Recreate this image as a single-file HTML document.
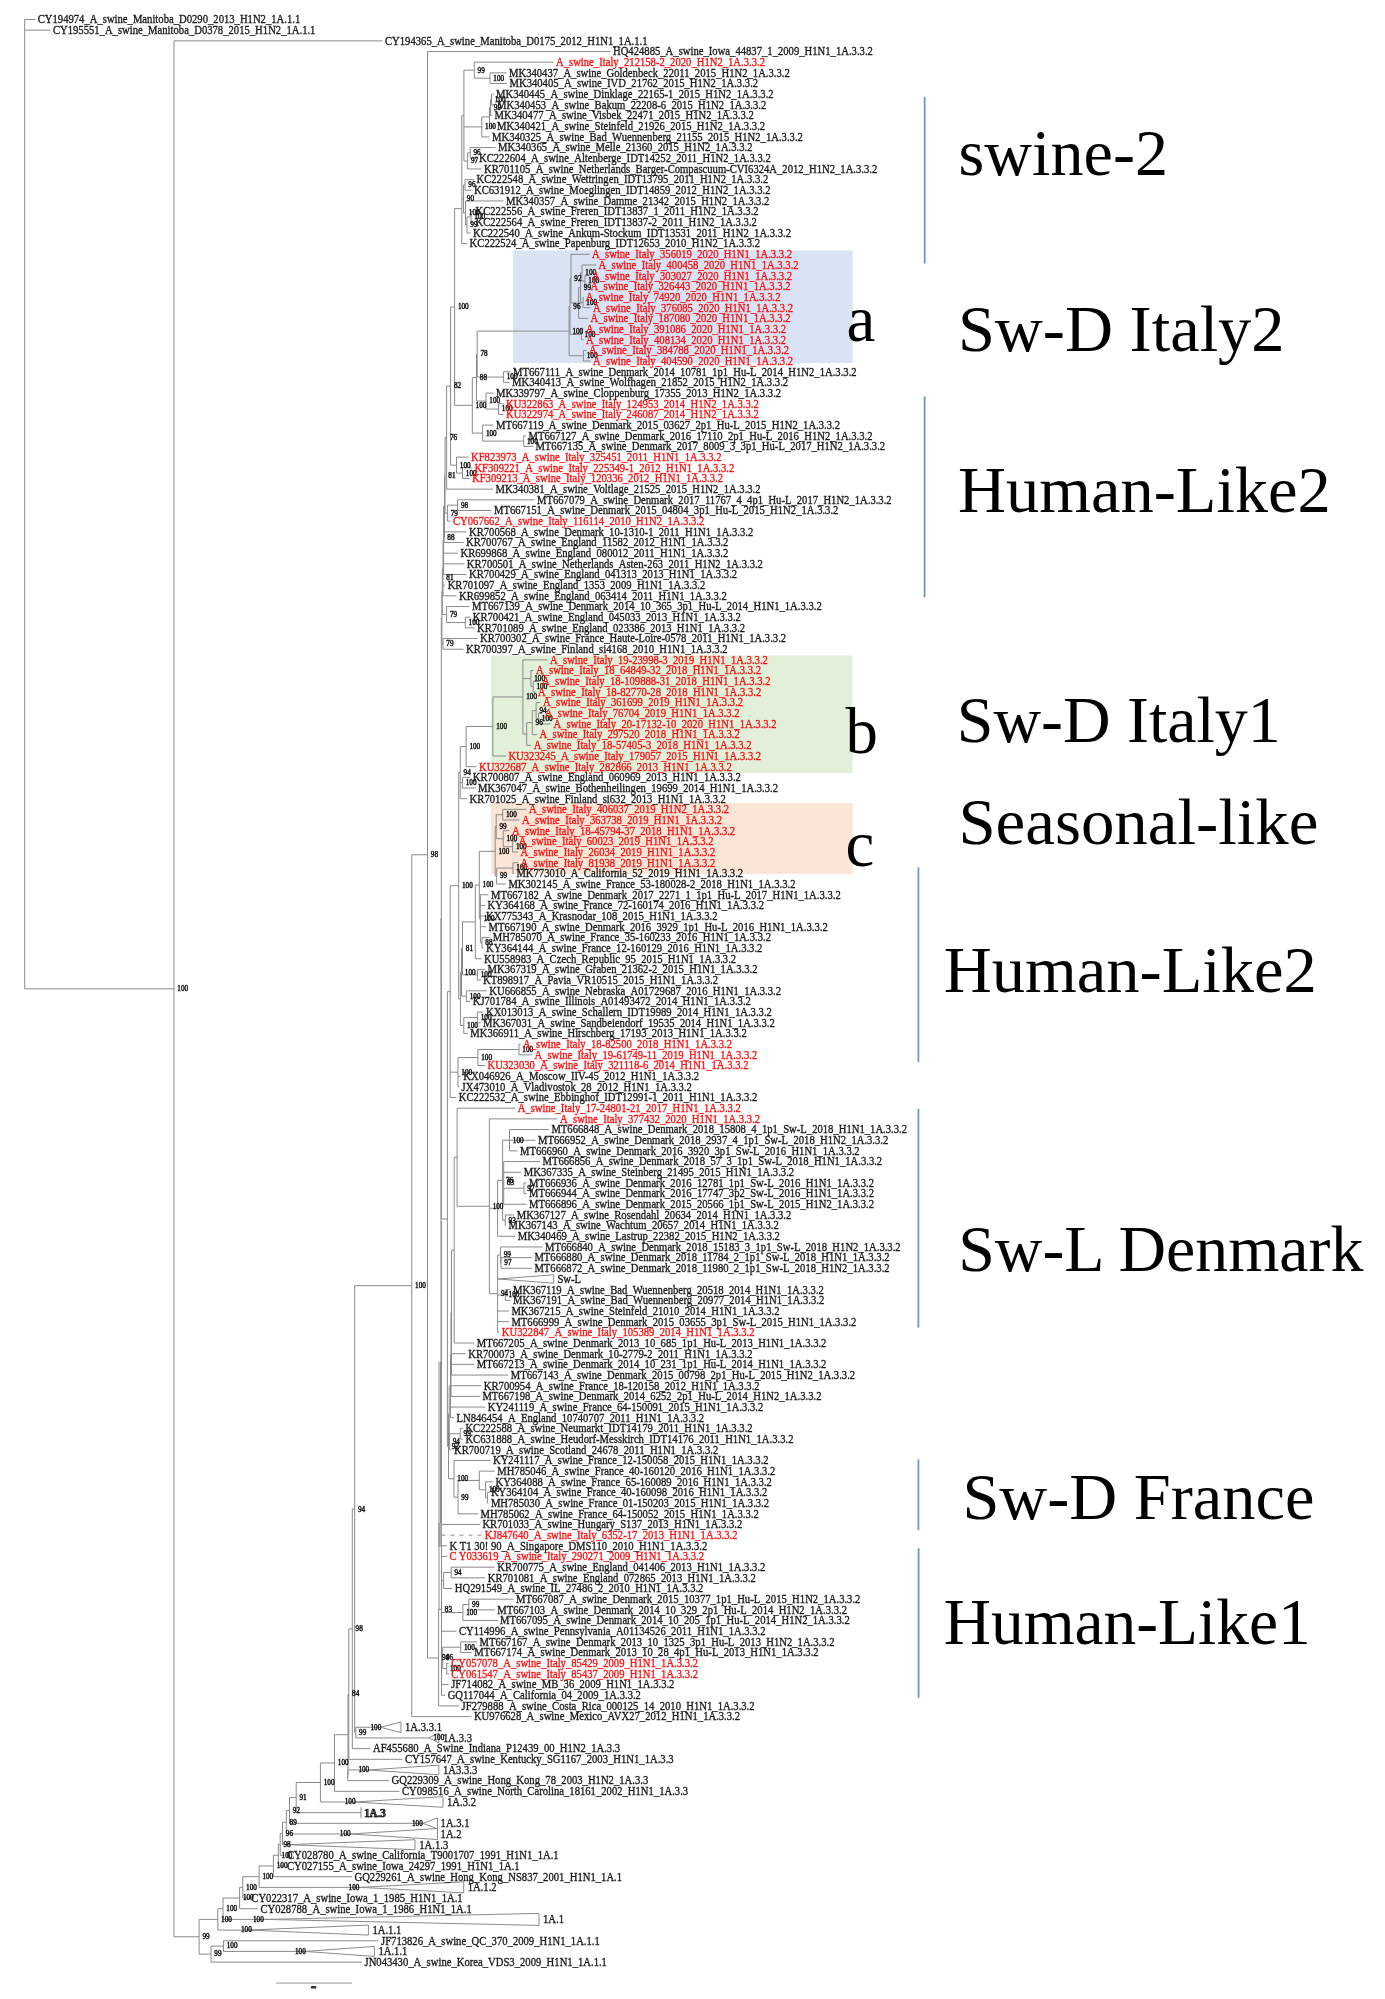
<!DOCTYPE html>
<html><head><meta charset="utf-8"><title>Phylogenetic tree</title>
<style>
html,body{margin:0;padding:0;background:#fff;}
body{width:1385px;height:1999px;overflow:hidden;position:relative;font-family:"Liberation Serif",serif;}
svg{position:absolute;left:0;top:0;display:block;will-change:transform;}
</style></head><body>
<svg width="1385" height="1999" viewBox="0 0 1385 1999">
<rect x="513" y="250.5" width="339.8" height="112.5" fill="#dae3f3"/>
<rect x="491" y="655.5" width="361.6" height="117.5" fill="#e2f0d9"/>
<rect x="491" y="803" width="361.6" height="71" fill="#fbe5d6"/>
<line x1="924.7" y1="96.8" x2="924.7" y2="263.5" stroke="#6f93d6" stroke-width="1.8"/>
<line x1="924.6" y1="396.5" x2="924.6" y2="597.2" stroke="#6f93d6" stroke-width="1.8"/>
<line x1="918.4" y1="867.5" x2="918.4" y2="1062.2" stroke="#6f93d6" stroke-width="1.8"/>
<line x1="918.4" y1="1108.9" x2="918.4" y2="1327.7" stroke="#6f93d6" stroke-width="1.8"/>
<line x1="918.4" y1="1459.4" x2="918.4" y2="1530.1" stroke="#6f93d6" stroke-width="1.8"/>
<line x1="918.6" y1="1548.3" x2="918.6" y2="1697.8" stroke="#6f93d6" stroke-width="1.8"/>
<path d="M24.7 19.5V988.8M24.7 19.5H35.2M24.7 30.17H50.4M24.7 988.8H174M174 40.85V1936.74M174 40.85H382.5M174 1936.74H199.1M199.1 1919.4V1954.09M199.1 1919.4H217.8M217.8 1908.72V1930.07M217.8 1908.72H223M223 1898.04V1919.4M223 1898.04H239.6M239.6 1887.36V1908.73M239.6 1887.36H242.8M242.8 1876.67V1898.05M242.8 1876.67H259.1M259.1 1865.96V1887.38M259.1 1865.96H273.4M273.4 1855.22V1876.71M273.4 1855.22H278.3M278.3 1844.41V1866.03M278.3 1844.41H280.2M280.2 1833.46V1855.36M280.2 1833.46H282.5M282.5 1822.24V1844.69M282.5 1822.24H286.3M286.3 1810.46V1834.01M286.3 1810.46H289.5M289.5 1797.58V1823.34M289.5 1797.58H296.2M296.2 1782.5V1812.66M296.2 1782.5H320.4M320.4 1763.01V1801.99M320.4 1763.01H334.5M334.5 1734.7V1791.32M334.5 1734.7H348M348 1694.09V1775.31M348 1694.09H348.8M348.8 1628.89V1759.3M348.8 1628.89H352.3M352.3 1509.15V1748.62M352.3 1509.15H354.7M354.7 1285.68V1732.61M354.7 1285.68H411.8M411.8 854.76V1716.6M411.8 854.76H427.5M427.5 51.52V1658M427.5 51.52H610.5M427.5 1658H438.6M438.6 1609.3V1705.93M438.6 1609.3H441.5M441.5 1221.39V1695.26M441.5 1221.39H441M441 918.31V1524.48M441 918.31H441.3M441.3 617.63V1219M441.3 617.63H441.9M441.9 591.35V643.91M441.9 591.35H442.3M442.3 568.14V614.55M442.3 568.14H443M443 540.4V595.87M443 540.4H443.6M443.6 506.27V574.53M443.6 506.27H444.5M444.5 475.37V537.17M444.5 475.37H445M445 437.59V513.15M445 437.59H446.6M446.6 386.05V489.14M446.6 386.05H450.6M450.6 306.97V465.12M450.6 306.97H454.6M454.6 208.6V405.34M454.6 208.6H461.8M461.8 115.56V243.65M461.8 115.56H463.9M463.9 70.2V160.93M463.9 70.2H474.3M474.3 62.19V78.2M474.3 62.19H553.5M474.3 78.2H490M490 72.87V83.54M490 72.87H506.5M490 83.54H507M463.9 126.9H481.8M481.8 116.9V136.91M481.8 116.9H489.5M489.5 107.56V126.24M489.5 107.56H490.5M490.5 99.55V115.56M490.5 99.55H491.5M491.5 94.22V104.89M491.5 94.22H493.5M491.5 104.89H494.5M490.5 115.56H492M489.5 126.24H494.5M481.8 136.91H489.5M463.9 160.93H467.6M467.6 152.92V168.93M467.6 152.92H470.2M470.2 147.58V158.26M470.2 147.58H495.5M470.2 158.26H476.5M467.6 168.93H481.5M461.8 198.95H463.5M463.5 184.94V212.96M463.5 184.94H465M465 179.6V190.28M465 179.6H474M465 190.28H471.5M463.5 212.96H465.5M465.5 200.95V224.97M465.5 200.95H503.5M465.5 224.97H467M467 216.96V232.97M467 216.96H471M471 211.62V222.3M471 211.62H473M471 222.3H473M467 232.97H470.5M461.8 243.65H467.1M454.6 405.34H472.3M472.3 377.59V433.1M472.3 377.59H476.5M476.5 354.09V401.08M476.5 354.09H477.2M477.2 331.12V377.07M477.2 331.12H569.1M569.1 306.52V355.72M569.1 306.52H570M570 278.67V334.37M570 278.67H571M571 254.32V303.02M571 254.32H589.5M571 303.02H578.6M578.6 287.67V318.36M578.6 287.67H580.5M580.5 273V302.35M580.5 273H582M582 264.99V281M582 264.99H596M582 281H585M585 275.67V286.34M585 275.67H589.5M585 286.34H588M580.5 302.35H583M583 297.01V307.69M583 297.01H583.2M583 307.69H590.5M578.6 318.36H588M570 334.37H581.3M581.3 329.03V339.71M581.3 329.03H583.5M581.3 339.71H583.5M569.1 355.72H583.4M583.4 350.38V361.06M583.4 350.38H586.5M583.4 361.06H590.5M477.2 377.07H503.4M503.4 371.73V382.4M503.4 371.73H510.5M503.4 382.4H509.5M476.5 401.08H486M486 393.08V409.09M486 393.08H493.5M486 409.09H498.5M498.5 403.75V414.42M498.5 403.75H503.5M498.5 414.42H503.5M472.3 433.1H482.6M482.6 425.1V441.11M482.6 425.1H493.5M482.6 441.11H523.7M523.7 435.77V446.44M523.7 435.77H526M523.7 446.44H532.9M450.6 465.12H456.5M456.5 457.12V473.13M456.5 457.12H468.5M456.5 473.13H462.5M462.5 467.79V478.46M462.5 467.79H471.9M462.5 478.46H469.5M446.6 489.14H493.1M445 513.15H447.4M447.4 505.15V521.16M447.4 505.15H457.6M457.6 499.81V510.49M457.6 499.81H534.5M457.6 510.49H491.5M447.4 521.16H450.5M444.5 537.17H444M444 531.83V542.51M444 531.83H466.5M444 542.51H463.5M443.6 553.18H458M443.6 563.85H464.3M443.6 574.53H466.5M443 585.2H445.2M443 595.87H456.5M442.3 614.55H446.6M446.6 606.55V622.56M446.6 606.55H469.5M446.6 622.56H465.3M465.3 617.22V627.9M465.3 617.22H470.2M465.3 627.9H474.5M441.9 643.91H443M443 638.57V649.24M443 638.57H477.5M443 649.24H463.5M441.3 1219H447.4M447.4 991.64V1446.36M447.4 991.64H450.2M450.2 885.74V1097.53M450.2 885.74H458.7M458.7 772.61V998.87M458.7 772.61H460.25M460.25 746.56V798.67M460.25 746.56H466.1M466.1 726.46V766.65M466.1 726.46H492.9M492.9 696.94V755.98M492.9 696.94H522.9M522.9 659.92V733.96M522.9 659.92H547.5M522.9 678.59H530.9M530.9 670.59V686.6M530.9 670.59H533.5M530.9 686.6H533.2M533.2 681.26V691.94M533.2 681.26H539.5M533.2 691.94H535.5M522.9 733.96H526.7M526.7 722.62V745.3M526.7 722.62H532.3M532.3 710.62V734.63M532.3 710.62H536.1M536.1 702.61V718.62M536.1 702.61H540.5M536.1 718.62H538.5M538.5 713.28V723.96M538.5 713.28H542.3M538.5 723.96H550.9M532.3 734.63H537.1M526.7 745.3H531.2M492.9 755.98H505.9M466.1 766.65H476.5M460.25 782.66H462.4M462.4 777.33V788M462.4 777.33H470.2M462.4 788H475.5M460.25 798.67H467.1M458.7 998.87H460.4M460.4 972.24V1025.49M460.4 972.24H461.5M461.5 948.35V996.13M461.5 948.35H462.5M462.5 921.92V974.79M462.5 921.92H475.3M475.3 885.06V958.78M475.3 885.06H479.3M479.3 851.37V918.75M479.3 851.37H495.2M495.2 826.69V876.06M495.2 826.69H496.2M496.2 814.68V838.7M496.2 814.68H502.7M502.7 809.35V820.02M502.7 809.35H526.5M502.7 820.02H519.5M496.2 838.7H503.2M503.2 830.69V846.7M503.2 830.69H509.5M503.2 846.7H512.6M512.6 841.37V852.04M512.6 841.37H516.3M512.6 852.04H518M495.2 876.06H496.7M496.7 868.05V884.06M496.7 868.05H513M513 862.71V873.39M513 862.71H518M513 873.39H513.9M496.7 884.06H505.9M479.3 918.75H480.4M480.4 894.74V942.77M480.4 894.74H488.5M480.4 905.41H485.1M480.4 916.08H483.5M480.4 926.76H486.1M480.4 942.77H482M482 937.43V948.1M482 937.43H490.3M482 948.1H483.5M475.3 958.78H481.5M462.5 974.79H477.4M477.4 969.45V980.12M477.4 969.45H485.1M477.4 980.12H480.5M461.5 996.13H466.4M466.4 990.8V1001.47M466.4 990.8H486.8M466.4 1001.47H470.2M460.4 1025.49H463.8M463.8 1017.48V1033.49M463.8 1017.48H477.4M477.4 1012.14V1022.82M477.4 1012.14H483.5M477.4 1022.82H480.5M463.8 1033.49H467.8M450.2 1072.18H458M458 1057.51V1086.86M458 1057.51H477.9M477.9 1049.5V1065.51M477.9 1049.5H519M519 1044.17V1054.84M519 1044.17H520.5M519 1054.84H531.9M477.9 1065.51H485.1M458 1076.19H460.8M458 1086.86H459.1M450.2 1097.53H456.3M447.4 1446.36H448.5M448.5 1413.94V1478.78M448.5 1413.94H449.2M449.2 1386.12V1441.76M449.2 1386.12H450.5M450.5 1354.49V1417.74M450.5 1354.49H451M451 1312.59V1396.39M451 1312.59H451.5M451.5 1250.13V1375.05M451.5 1250.13H454.2M454.2 1157.24V1343.03M454.2 1157.24H457.1M457.1 1108.21V1206.27M457.1 1108.21H515.2M457.1 1206.27H489.35M489.35 1118.88V1293.66M489.35 1118.88H557.5M489.35 1208.27H497.6M497.6 1180.25V1236.29M497.6 1180.25H502.6M502.6 1140.23V1220.28M502.6 1140.23H509.5M509.5 1129.55V1150.9M509.5 1129.55H548.9M509.5 1140.23H535.5M509.5 1150.9H517.5M502.6 1182.92H503.7M503.7 1161.58V1204.27M503.7 1161.58H540M503.7 1172.25H521.3M503.7 1188.26H524M524 1182.92V1193.6M524 1182.92H526.5M524 1193.6H526.5M503.7 1204.27H526.5M502.6 1220.28H505.3M505.3 1214.94V1225.62M505.3 1214.94H514.2M505.3 1225.62H506M497.6 1236.29H515.2M489.35 1293.66H497.6M497.6 1254.97V1332.35M497.6 1254.97H500.4M500.4 1246.96V1262.97M500.4 1246.96H542.5M500.4 1262.97H501M501 1257.64V1268.31M501 1257.64H531.9M501 1268.31H531.9M497.6 1278.98H498.2M497.6 1295H505.3M505.3 1289.66V1300.33M505.3 1289.66H510.5M505.3 1300.33H510.5M497.6 1311.01H508.9M497.6 1321.68H508.9M497.6 1332.35H499.3M454.2 1343.03H474.2M451.5 1353.7H465.7M451.5 1364.37H474.2M451.5 1375.05H508.2M451 1385.72H481.3M451 1396.39H479.9M450.5 1407.07H485.2M450.5 1417.74H454M449.2 1441.76H449.4M449.4 1433.75V1449.76M449.4 1433.75H460.3M460.3 1428.42V1439.09M460.3 1428.42H462.9M460.3 1439.09H462.9M449.4 1449.76H451.5M448.5 1478.78H454M454 1460.44V1497.13M454 1460.44H490.5M454 1497.13H458M458 1480.45V1513.8M458 1480.45H479.3M479.3 1471.11V1489.79M479.3 1471.11H494.7M479.3 1489.79H485.6M485.6 1481.78V1497.79M485.6 1481.78H493M485.6 1497.79H487.4M487.4 1492.46V1503.13M487.4 1492.46H488.4M487.4 1503.13H488.4M458 1513.8H478.1M441 1524.48H479.9M441.5 1545.82H447M441.5 1556.5H447M441.5 1580.51H443.6M443.6 1572.51V1588.52M443.6 1572.51H451.2M451.2 1567.17V1577.85M451.2 1567.17H494.7M451.2 1577.85H485.2M443.6 1588.52H452.3M441.5 1612.53H462.9M462.9 1604.53V1620.54M462.9 1604.53H468.8M468.8 1599.19V1609.87M468.8 1599.19H513.5M468.8 1609.87H494.7M462.9 1620.54H497.5M441.5 1631.21H456.5M441.5 1657.9H442.7M442.7 1647.22V1668.57M442.7 1647.22H460.7M460.7 1641.89V1652.56M460.7 1641.89H477M460.7 1652.56H471.7M442.7 1668.57H446.7M446.7 1663.23V1673.91M446.7 1663.23H448.7M446.7 1673.91H448.7M441.5 1684.58H448.7M441.5 1695.26H445.2M438.6 1705.93H459.1M411.8 1716.6H471.4M354.7 1732.61H355.8M355.8 1727.28V1737.95M355.8 1727.28H380.6M355.8 1737.95H428.7M352.3 1748.62H370.5M348.8 1759.3H402.5M348 1775.31H347.8M347.8 1769.97V1780.64M347.8 1769.97H368.5M347.8 1780.64H389.1M334.5 1791.32H399.5M320.4 1801.99H354.2M296.2 1812.66H361M289.5 1823.34H423M286.3 1834.01H350.6M282.5 1844.69H288M280.2 1855.36H284.5M278.3 1866.03H284.5M273.4 1876.71H352M259.1 1887.38H360.5M242.8 1898.05H248.8M239.6 1908.73H257.9M223 1919.4H265M217.8 1930.07H249M199.1 1954.09H211M211 1946.08V1962.1M211 1946.08H223.4M223.4 1940.75V1951.42M223.4 1940.75H378.5M223.4 1951.42H305M211 1962.1H362" stroke="#8a8a8a" stroke-width="1.0" fill="none" shape-rendering="auto"/>
<path d="M441.5 1535.15H482.3" stroke="#8a8a8a" stroke-width="1" stroke-dasharray="4 5" fill="none"/>
<rect x="438.3" y="1523" width="3" height="24" fill="#b0b0b0"/>
<path d="M439 1361.8V1610M440.6 1361.8V1523" stroke="#8a8a8a" stroke-width="1" fill="none"/>
<path d="M498.2 1278.98L553.7 1274.78V1283.18ZM380.6 1727.28L400.9 1721.98V1732.58ZM428.7 1737.95L438.8 1733.15V1742.75ZM368.5 1769.97L438.8 1765.17V1774.77ZM354.2 1801.99L443 1796.69V1807.29ZM361 1807.16V1818.16M423 1823.34L437.5 1817.84V1828.84ZM350.6 1834.01L437.5 1828.51V1839.51ZM288 1844.69L415 1839.69V1849.69ZM360.5 1887.38L463.7 1881.88V1892.88ZM265 1919.4L539 1913.4V1925.4ZM249 1930.07L368.4 1925.07V1935.07ZM305 1951.42L374.4 1946.42V1956.42Z" stroke="#8a8a8a" stroke-width="1" fill="none"/>
<g font-family="Liberation Serif" font-size="7.2" fill="#111" stroke="#111" stroke-width="0.4"><text x="493.3" y="80.6">100</text><text x="477.6" y="72.6">99</text><text x="494.8" y="101.95">100</text><text x="493.8" y="109.96">99</text><text x="485.1" y="129.3">100</text><text x="473.5" y="155.32">96</text><text x="470.9" y="163.33">97</text><text x="468.3" y="187.34">96</text><text x="474.3" y="219.36">100</text><text x="470.3" y="227.37">99</text><text x="468.8" y="215.36">100</text><text x="466.8" y="201.35">90</text><text x="588.3" y="283.4">100</text><text x="585.3" y="275.4">100</text><text x="586.3" y="304.75">100</text><text x="583.8" y="290.07">99</text><text x="574.3" y="281.07">92</text><text x="584.6" y="336.77">100</text><text x="573.3" y="308.92">96</text><text x="586.7" y="358.12">100</text><text x="572.4" y="333.52">100</text><text x="506.7" y="379.47">100</text><text x="480.5" y="356.49">78</text><text x="501.8" y="411.49">100</text><text x="489.3" y="403.48">100</text><text x="479.8" y="379.99">88</text><text x="527" y="443.51">100</text><text x="485.9" y="435.5">100</text><text x="475.6" y="407.74">100</text><text x="457.9" y="309.37">100</text><text x="465.8" y="475.53">100</text><text x="459.8" y="467.52">100</text><text x="453.9" y="388.45">82</text><text x="449.9" y="439.99">76</text><text x="460.9" y="507.55">98</text><text x="450.7" y="515.55">79</text><text x="448.3" y="477.77">81</text><text x="447.3" y="539.57">88</text><text x="446.3" y="580">81</text><text x="468.6" y="624.96">100</text><text x="449.9" y="616.95">79</text><text x="446.3" y="646.31">79</text><text x="536.5" y="689">100</text><text x="534.2" y="680.99">100</text><text x="541.8" y="721.02">100</text><text x="539.4" y="713.02">94</text><text x="535.6" y="725.02">96</text><text x="526.2" y="699.34">100</text><text x="496.2" y="728.86">100</text><text x="469.4" y="748.96">100</text><text x="465.7" y="785.06">100</text><text x="463.55" y="775.01">94</text><text x="506" y="817.08">100</text><text x="515.9" y="849.1">100</text><text x="506.5" y="841.1">100</text><text x="499.5" y="829.09">99</text><text x="516.3" y="870.45">100</text><text x="500" y="878.46">99</text><text x="498.5" y="853.77">100</text><text x="485.3" y="945.17">88</text><text x="483.7" y="921.15">100</text><text x="482.6" y="887.46">100</text><text x="480.7" y="977.19">100</text><text x="465.8" y="950.75">81</text><text x="469.7" y="998.53">100</text><text x="464.8" y="974.64">100</text><text x="480.7" y="1019.88">100</text><text x="467.1" y="1027.89">100</text><text x="462" y="888.14">100</text><text x="522.3" y="1051.9">100</text><text x="481.2" y="1059.91">100</text><text x="461.3" y="1074.58">100</text><text x="512.8" y="1142.63">100</text><text x="527.3" y="1190.66">97</text><text x="507" y="1185.32">83</text><text x="508.6" y="1222.68">93</text><text x="505.9" y="1182.65">76</text><text x="504.3" y="1265.37">97</text><text x="503.7" y="1257.37">99</text><text x="508.6" y="1297.4">100</text><text x="500.9" y="1296.06">94</text><text x="492.65" y="1208.67">100</text><text x="463.6" y="1436.15">99</text><text x="452.7" y="1444.16">94</text><text x="488.9" y="1492.19">100</text><text x="461.3" y="1499.53">99</text><text x="457.3" y="1481.18">100</text><text x="451.8" y="1448.76">92</text><text x="454.5" y="1574.91">94</text><text x="472.1" y="1606.93">99</text><text x="466.2" y="1614.93">100</text><text x="464" y="1649.62">100</text><text x="450" y="1670.97">100</text><text x="446" y="1660.3">96</text><text x="444.8" y="1611.7">83</text><text x="441.9" y="1660.4">94</text><text x="430.8" y="857.16">98</text><text x="415.1" y="1288.08">100</text><text x="359.1" y="1735.01">99</text><text x="358" y="1511.55">94</text><text x="355.6" y="1631.29">98</text><text x="352.1" y="1696.49">84</text><text x="337.8" y="1765.41">100</text><text x="323.7" y="1784.9">100</text><text x="299.5" y="1799.98">91</text><text x="292.8" y="1812.86">92</text><text x="289.6" y="1824.64">89</text><text x="285.8" y="1835.86">96</text><text x="283.5" y="1846.81">98</text><text x="281.6" y="1857.62">100</text><text x="276.7" y="1868.36">100</text><text x="262.4" y="1879.07">100</text><text x="246.1" y="1889.76">100</text><text x="242.9" y="1900.44">100</text><text x="226.3" y="1911.12">100</text><text x="221.1" y="1921.8">100</text><text x="226.7" y="1948.48">100</text><text x="214.3" y="1956.49">99</text><text x="202.4" y="1939.14">99</text><text x="177.3" y="991.2">100</text><text x="370.5" y="1729.68">100</text><text x="433.5" y="1740.35">100</text><text x="358.4" y="1772.37">100</text><text x="344.7" y="1804.39">100</text><text x="412" y="1825.74">100</text><text x="339.8" y="1836.41">100</text><text x="348.6" y="1889.78">100</text><text x="253" y="1921.8">100</text><text x="241" y="1932.47">100</text><text x="295" y="1953.82">100</text></g>
<g font-family="Liberation Serif" font-size="10.65" fill="#1a1a1a" stroke="#1a1a1a" stroke-width="0.3" transform="scale(1 1.08)"><text x="37.7" y="21.62">CY194974_A_swine_Manitoba_D0290_2013_H1N2_1A.1.1</text><text x="52.9" y="31.5">CY195551_A_swine_Manitoba_D0378_2015_H1N2_1A.1.1</text><text x="385" y="41.39">CY194365_A_swine_Manitoba_D0175_2012_H1N1_1A.1.1</text><text x="613" y="51.27">HQ424885_A_swine_Iowa_44837_1_2009_H1N1_1A.3.3.2</text><text x="509" y="71.04">MK340437_A_swine_Goldenbeck_22011_2015_H1N2_1A.3.3.2</text><text x="509.5" y="80.92">MK340405_A_swine_IVD_21762_2015_H1N2_1A.3.3.2</text><text x="496" y="90.8">MK340445_A_swine_Dinklage_22165-1_2015_H1N2_1A.3.3.2</text><text x="497" y="100.68">MK340453_A_swine_Bakum_22208-6_2015_H1N2_1A.3.3.2</text><text x="494.5" y="110.57">MK340477_A_swine_Visbek_22471_2015_H1N2_1A.3.3.2</text><text x="497" y="120.45">MK340421_A_swine_Steinfeld_21926_2015_H1N2_1A.3.3.2</text><text x="492" y="130.33">MK340325_A_swine_Bad_Wuennenberg_21155_2015_H1N2_1A.3.3.2</text><text x="498" y="140.22">MK340365_A_swine_Melle_21360_2015_H1N2_1A.3.3.2</text><text x="479" y="150.1">KC222604_A_swine_Altenberge_IDT14252_2011_H1N2_1A.3.3.2</text><text x="484" y="159.98">KR701105_A_swine_Netherlands_Barger-Compascuum-CVI6324A_2012_H1N2_1A.3.3.2</text><text x="476.5" y="169.86">KC222548_A_swine_Wettringen_IDT13795_2011_H1N2_1A.3.3.2</text><text x="474" y="179.75">KC631912_A_swine_Moeglingen_IDT14859_2012_H1N2_1A.3.3.2</text><text x="506" y="189.63">MK340357_A_swine_Damme_21342_2015_H1N2_1A.3.3.2</text><text x="475.5" y="199.51">KC222556_A_swine_Freren_IDT13837_1_2011_H1N2_1A.3.3.2</text><text x="475.5" y="209.4">KC222564_A_swine_Freren_IDT13837-2_2011_H1N2_1A.3.3.2</text><text x="473" y="219.28">KC222540_A_swine_Ankum-Stockum_IDT13531_2011_H1N2_1A.3.3.2</text><text x="469.6" y="229.16">KC222524_A_swine_Papenburg_IDT12653_2010_H1N2_1A.3.3.2</text><text x="513" y="347.76">MT667111_A_swine_Denmark_2014_10781_1p1_Hu-L_2014_H1N2_1A.3.3.2</text><text x="512" y="357.64">MK340413_A_swine_Wolfhagen_21852_2015_H1N2_1A.3.3.2</text><text x="496" y="367.52">MK339797_A_swine_Cloppenburg_17355_2013_H1N2_1A.3.3.2</text><text x="496" y="397.17">MT667119_A_swine_Denmark_2015_03627_2p1_Hu-L_2015_H1N2_1A.3.3.2</text><text x="528.5" y="407.06">MT667127_A_swine_Denmark_2016_17110_2p1_Hu-L_2016_H1N2_1A.3.3.2</text><text x="535.4" y="416.94">MT667135_A_swine_Denmark_2017_8009_3_3p1_Hu-L_2017_H1N2_1A.3.3.2</text><text x="495.6" y="456.47">MK340381_A_swine_Voltlage_21525_2015_H1N2_1A.3.3.2</text><text x="537" y="466.35">MT667079_A_swine_Denmark_2017_11767_4_4p1_Hu-L_2017_H1N2_1A.3.3.2</text><text x="494" y="476.24">MT667151_A_swine_Denmark_2015_04804_3p1_Hu-L_2015_H1N2_1A.3.3.2</text><text x="469" y="496">KR700568_A_swine_Denmark_10-1310-1_2011_H1N1_1A.3.3.2</text><text x="466" y="505.89">KR700767_A_swine_England_11582_2012_H1N1_1A.3.3.2</text><text x="460.5" y="515.77">KR699868_A_swine_England_080012_2011_H1N1_1A.3.3.2</text><text x="466.8" y="525.65">KR700501_A_swine_Netherlands_Asten-263_2011_H1N2_1A.3.3.2</text><text x="469" y="535.53">KR700429_A_swine_England_041313_2013_H1N1_1A.3.3.2</text><text x="447.7" y="545.42">KR701097_A_swine_England_1353_2009_H1N1_1A.3.3.2</text><text x="459" y="555.3">KR699852_A_swine_England_063414_2011_H1N1_1A.3.3.2</text><text x="472" y="565.18">MT667139_A_swine_Denmark_2014_10_365_3p1_Hu-L_2014_H1N1_1A.3.3.2</text><text x="472.7" y="575.07">KR700421_A_swine_England_045033_2013_H1N1_1A.3.3.2</text><text x="477" y="584.95">KR701089_A_swine_England_023386_2013_H1N1_1A.3.3.2</text><text x="480" y="594.83">KR700302_A_swine_France_Haute-Loire-0578_2011_H1N1_1A.3.3.2</text><text x="466" y="604.72">KR700397_A_swine_Finland_si4168_2010_H1N1_1A.3.3.2</text><text x="472.7" y="723.31">KR700807_A_swine_England_060969_2013_H1N1_1A.3.3.2</text><text x="478" y="733.19">MK367047_A_swine_Bothenheilingen_19699_2014_H1N1_1A.3.3.2</text><text x="469.6" y="743.08">KR701025_A_swine_Finland_si632_2013_H1N1_1A.3.3.2</text><text x="516.4" y="812.26">MK773010_A_California_52_2019_H1N1_1A.3.3.2</text><text x="508.4" y="822.14">MK302145_A_swine_France_53-180028-2_2018_H1N1_1A.3.3.2</text><text x="491" y="832.02">MT667182_A_swine_Denmark_2017_2271_1_1p1_Hu-L_2017_H1N1_1A.3.3.2</text><text x="487.6" y="841.91">KY364168_A_swine_France_72-160174_2016_H1N1_1A.3.3.2</text><text x="486" y="851.79">KX775343_A_Krasnodar_108_2015_H1N1_1A.3.3.2</text><text x="488.6" y="861.67">MT667190_A_swine_Denmark_2016_3929_1p1_Hu-L_2016_H1N1_1A.3.3.2</text><text x="492.8" y="871.56">MH785070_A_swine_France_35-160233_2016_H1N1_1A.3.3.2</text><text x="486" y="881.44">KY364144_A_swine_France_12-160129_2016_H1N1_1A.3.3.2</text><text x="484" y="891.32">KU558983_A_Czech_Republic_95_2015_H1N1_1A.3.3.2</text><text x="487.6" y="901.2">MK367319_A_swine_Graben_21362-2_2015_H1N1_1A.3.3.2</text><text x="483" y="911.09">KT898917_A_Pavia_VR10515_2015_H1N1_1A.3.3.2</text><text x="489.3" y="920.97">KU666855_A_swine_Nebraska_A01729687_2016_H1N1_1A.3.3.2</text><text x="472.7" y="930.85">KJ701784_A_swine_Illinois_A01493472_2014_H1N1_1A.3.3.2</text><text x="486" y="940.74">KX013013_A_swine_Schallern_IDT19989_2014_H1N1_1A.3.3.2</text><text x="483" y="950.62">MK367031_A_swine_Sandbeiendorf_19535_2014_H1N1_1A.3.3.2</text><text x="470.3" y="960.5">MK366911_A_swine_Hirschberg_17193_2013_H1N1_1A.3.3.2</text><text x="463.3" y="1000.03">KX046926_A_Moscow_IIV-45_2012_H1N1_1A.3.3.2</text><text x="461.6" y="1009.92">JX473010_A_Vladivostok_28_2012_H1N1_1A.3.3.2</text><text x="458.8" y="1019.8">KC222532_A_swine_Ebbinghof_IDT12991-1_2011_H1N1_1A.3.3.2</text><text x="551.4" y="1049.45">MT666848_A_swine_Denmark_2018_15808_4_1p1_Sw-L_2018_H1N1_1A.3.3.2</text><text x="538" y="1059.33">MT666952_A_swine_Denmark_2018_2937_4_1p1_Sw-L_2018_H1N2_1A.3.3.2</text><text x="520" y="1069.21">MT666960_A_swine_Denmark_2016_3920_3p1_Sw-L_2016_H1N1_1A.3.3.2</text><text x="542.5" y="1079.1">MT666856_A_swine_Denmark_2018_57_3_1p1_Sw-L_2018_H1N1_1A.3.3.2</text><text x="523.8" y="1088.98">MK367335_A_swine_Steinberg_21495_2015_H1N1_1A.3.3.2</text><text x="529" y="1098.86">MT666936_A_swine_Denmark_2016_12781_1p1_Sw-L_2016_H1N1_1A.3.3.2</text><text x="529" y="1108.75">MT666944_A_swine_Denmark_2016_17747_3p2_Sw-L_2016_H1N1_1A.3.3.2</text><text x="529" y="1118.63">MT666896_A_swine_Denmark_2015_20566_1p1_Sw-L_2015_H1N2_1A.3.3.2</text><text x="516.7" y="1128.51">MK367127_A_swine_Rosendahl_20634_2014_H1N1_1A.3.3.2</text><text x="508.5" y="1138.4">MK367143_A_swine_Wachtum_20657_2014_H1N1_1A.3.3.2</text><text x="517.7" y="1148.28">MK340469_A_swine_Lastrup_22382_2015_H1N2_1A.3.3.2</text><text x="545" y="1158.16">MT666840_A_swine_Denmark_2018_15183_3_1p1_Sw-L_2018_H1N2_1A.3.3.2</text><text x="534.4" y="1168.04">MT666880_A_swine_Denmark_2018_11784_2_1p1_Sw-L_2018_H1N1_1A.3.3.2</text><text x="534.4" y="1177.93">MT666872_A_swine_Denmark_2018_11980_2_1p1_Sw-L_2018_H1N2_1A.3.3.2</text><text x="557.4" y="1187.81">Sw-L</text><text x="513" y="1197.69">MK367119_A_swine_Bad_Wuennenberg_20518_2014_H1N1_1A.3.3.2</text><text x="513" y="1207.58">MK367191_A_swine_Bad_Wuennenberg_20977_2014_H1N1_1A.3.3.2</text><text x="511.4" y="1217.46">MK367215_A_swine_Steinfeld_21010_2014_H1N1_1A.3.3.2</text><text x="511.4" y="1227.34">MT666999_A_swine_Denmark_2015_03655_3p1_Sw-L_2015_H1N1_1A.3.3.2</text><text x="476.7" y="1247.11">MT667205_A_swine_Denmark_2013_10_685_1p1_Hu-L_2013_H1N1_1A.3.3.2</text><text x="468.2" y="1256.99">KR700073_A_swine_Denmark_10-2779-2_2011_H1N1_1A.3.3.2</text><text x="476.7" y="1266.87">MT667213_A_swine_Denmark_2014_10_231_1p1_Hu-L_2014_H1N1_1A.3.3.2</text><text x="510.7" y="1276.76">MT667143_A_swine_Denmark_2015_00798_2p1_Hu-L_2015_H1N2_1A.3.3.2</text><text x="483.8" y="1286.64">KR700954_A_swine_France_18-120158_2012_H1N1_1A.3.3.2</text><text x="482.4" y="1296.52">MT667198_A_swine_Denmark_2014_6252_2p1_Hu-L_2014_H1N2_1A.3.3.2</text><text x="487.7" y="1306.41">KY241119_A_swine_France_64-150091_2015_H1N1_1A.3.3.2</text><text x="456.5" y="1316.29">LN846454_A_England_10740707_2011_H1N1_1A.3.3.2</text><text x="465.4" y="1326.17">KC222588_A_swine_Neumarkt_IDT14179_2011_H1N1_1A.3.3.2</text><text x="465.4" y="1336.05">KC631888_A_swine_Heudorf-Messkirch_IDT14176_2011_H1N1_1A.3.3.2</text><text x="454" y="1345.94">KR700719_A_swine_Scotland_24678_2011_H1N1_1A.3.3.2</text><text x="493" y="1355.82">KY241117_A_swine_France_12-150058_2015_H1N1_1A.3.3.2</text><text x="497.2" y="1365.7">MH785046_A_swine_France_40-160120_2016_H1N1_1A.3.3.2</text><text x="495.5" y="1375.59">KY364088_A_swine_France_65-160089_2016_H1N1_1A.3.3.2</text><text x="490.9" y="1385.47">KY364104_A_swine_France_40-160098_2016_H1N1_1A.3.3.2</text><text x="490.9" y="1395.35">MH785030_A_swine_France_01-150203_2015_H1N1_1A.3.3.2</text><text x="480.6" y="1405.24">MH785062_A_swine_France_64-150052_2015_H1N1_1A.3.3.2</text><text x="482.4" y="1415.12">KR701033_A_swine_Hungary_S137_2013_H1N1_1A.3.3.2</text><text x="449.5" y="1434.88">K T1 30! 90_A_Singapore_DMS110_2010_H1N1_1A.3.3.2</text><text x="497.2" y="1454.65">KR700775_A_swine_England_041406_2013_H1N1_1A.3.3.2</text><text x="487.7" y="1464.53">KR701081_A_swine_England_072865_2013_H1N1_1A.3.3.2</text><text x="454.8" y="1474.42">HQ291549_A_swine_IL_27486_2_2010_H1N1_1A.3.3.2</text><text x="516" y="1484.3">MT667087_A_swine_Denmark_2015_10377_1p1_Hu-L_2015_H1N2_1A.3.3.2</text><text x="497.2" y="1494.18">MT667103_A_swine_Denmark_2014_10_329_2p1_Hu-L_2014_H1N2_1A.3.3.2</text><text x="500" y="1504.06">MT667095_A_swine_Denmark_2014_10_205_1p1_Hu-L_2014_H1N2_1A.3.3.2</text><text x="459" y="1513.95">CY114996_A_swine_Pennsylvania_A01134526_2011_H1N1_1A.3.3.2</text><text x="479.5" y="1523.83">MT667167_A_swine_Denmark_2013_10_1325_3p1_Hu-L_2013_H1N2_1A.3.3.2</text><text x="474.2" y="1533.71">MT667174_A_swine_Denmark_2013_10_28_4p1_Hu-L_2013_H1N1_1A.3.3.2</text><text x="451.2" y="1563.36">JF714082_A_swine_MB_36_2009_H1N1_1A.3.3.2</text><text x="447.7" y="1573.25">GQ117044_A_California_04_2009_1A.3.3.2</text><text x="461.6" y="1583.13">JF279888_A_swine_Costa_Rica_000125_14_2010_H1N1_1A.3.3.2</text><text x="473.9" y="1593.01">KU976628_A_swine_Mexico_AVX27_2012_H1N1_1A.3.3.2</text><text x="405" y="1602.89">1A.3.3.1</text><text x="443" y="1612.78">1A.3.3</text><text x="373" y="1622.66">AF455680_A_Swine_Indiana_P12439_00_H1N2_1A.3.3</text><text x="405" y="1632.54">CY157647_A_swine_Kentucky_SG1167_2003_H1N1_1A.3.3</text><text x="443" y="1642.43">1A3.3.3</text><text x="391.6" y="1652.31">GQ229309_A_swine_Hong_Kong_78_2003_H1N2_1A.3.3</text><text x="402" y="1662.19">CY098516_A_swine_North_Carolina_18161_2002_H1N1_1A.3.3</text><text x="447" y="1672.08">1A.3.2</text><text x="365" y="1681.96">1A.3</text><text x="440.6" y="1691.84">1A.3.1</text><text x="440.6" y="1701.72">1A.2</text><text x="419.3" y="1711.61">1A.1.3</text><text x="287" y="1721.49">CY028780_A_swine_California_T9001707_1991_H1N1_1A.1</text><text x="287" y="1731.37">CY027155_A_swine_Iowa_24297_1991_H1N1_1A.1</text><text x="354.5" y="1741.26">GQ229261_A_swine_Hong_Kong_NS837_2001_H1N1_1A.1</text><text x="467.7" y="1751.14">1A.1.2</text><text x="251.3" y="1761.02">CY022317_A_swine_Iowa_1_1985_H1N1_1A.1</text><text x="260.4" y="1770.9">CY028788_A_swine_Iowa_1_1986_H1N1_1A.1</text><text x="543" y="1780.79">1A.1</text><text x="372.4" y="1790.67">1A.1.1</text><text x="381" y="1800.55">JF713826_A_swine_QC_370_2009_H1N1_1A.1.1</text><text x="378.4" y="1810.44">1A.1.1</text><text x="364.5" y="1820.32">JN043430_A_swine_Korea_VDS3_2009_H1N1_1A.1.1</text></g>
<g font-family="Liberation Serif" font-size="10.65" fill="#ff1010" stroke="#ff1010" stroke-width="0.3" transform="scale(1 1.08)"><text x="556" y="61.15">A_swine_Italy_212158-2_2020_H1N2_1A.3.3.2</text><text x="592" y="239.05">A_swine_Italy_356019_2020_H1N1_1A.3.3.2</text><text x="598.5" y="248.93">A_swine_Italy_400458_2020_H1N1_1A.3.3.2</text><text x="592" y="258.81">A_swine_Italy_303027_2020_H1N1_1A.3.3.2</text><text x="590.5" y="268.69">A_swine_Italy_326443_2020_H1N1_1A.3.3.2</text><text x="585.7" y="278.58">A_swine_Italy_74920_2020_H1N1_1A.3.3.2</text><text x="593" y="288.46">A_swine_Italy_376085_2020_H1N1_1A.3.3.2</text><text x="590.5" y="298.34">A_swine_Italy_187080_2020_H1N1_1A.3.3.2</text><text x="586" y="308.23">A_swine_Italy_391086_2020_H1N1_1A.3.3.2</text><text x="586" y="318.11">A_swine_Italy_408134_2020_H1N1_1A.3.3.2</text><text x="589" y="327.99">A_swine_Italy_384788_2020_H1N1_1A.3.3.2</text><text x="593" y="337.88">A_swine_Italy_404590_2020_H1N1_1A.3.3.2</text><text x="506" y="377.41">KU322863_A_swine_Italy_124953_2014_H1N2_1A.3.3.2</text><text x="506" y="387.29">KU322974_A_swine_Italy_246087_2014_H1N2_1A.3.3.2</text><text x="471" y="426.82">KF823973_A_swine_Italy_325451_2011_H1N1_1A.3.3.2</text><text x="474.4" y="436.7">KF309221_A_swine_Italy_225349-1_2012_H1N1_1A.3.3.2</text><text x="472" y="446.59">KF309213_A_swine_Italy_120336_2012_H1N1_1A.3.3.2</text><text x="453" y="486.12">CY067662_A_swine_Italy_116114_2010_H1N2_1A.3.3.2</text><text x="550" y="614.6">A_swine_Italy_19-23998-3_2019_H1N1_1A.3.3.2</text><text x="536" y="624.48">A_swine_Italy_18_64849-32_2018_H1N1_1A.3.3.2</text><text x="542" y="634.36">A_swine_Italy_18-109888-31_2018_H1N1_1A.3.3.2</text><text x="538" y="644.25">A_swine_Italy_18-82770-28_2018_H1N1_1A.3.3.2</text><text x="543" y="654.13">A_swine_Italy_361699_2019_H1N1_1A.3.3.2</text><text x="544.8" y="664.01">A_swine_Italy_76704_2019_H1N1_1A.3.3.2</text><text x="553.4" y="673.9">A_swine_Italy_20-17132-10_2020_H1N1_1A.3.3.2</text><text x="539.6" y="683.78">A_swine_Italy_297520_2018_H1N1_1A.3.3.2</text><text x="533.7" y="693.66">A_swine_Italy_18-57405-3_2018_H1N1_1A.3.3.2</text><text x="508.4" y="703.54">KU323245_A_swine_Italy_179057_2015_H1N1_1A.3.3.2</text><text x="479" y="713.43">KU322687_A_swine_Italy_282866_2013_H1N1_1A.3.3.2</text><text x="529" y="752.96">A_swine_Italy_406037_2019_H1N2_1A.3.3.2</text><text x="522" y="762.84">A_swine_Italy_363738_2019_H1N1_1A.3.3.2</text><text x="512" y="772.73">A_swine_Italy_18-45794-37_2018_H1N1_1A.3.3.2</text><text x="518.8" y="782.61">A_swine_Italy_60023_2019_H1N1_1A.3.3.2</text><text x="520.5" y="792.49">A_swine_Italy_26034_2019_H1N1_1A.3.3.2</text><text x="520.5" y="802.37">A_swine_Italy_81938_2019_H1N1_1A.3.3.2</text><text x="523" y="970.38">A_swine_Italy_18-82500_2018_H1N1_1A.3.3.2</text><text x="534.4" y="980.27">A_swine_Italy_19-61749-11_2019_H1N1_1A.3.3.2</text><text x="487.6" y="990.15">KU323030_A_swine_Italy_321118-6_2014_H1N1_1A.3.3.2</text><text x="517.7" y="1029.68">A_swine_Italy_17-24801-21_2017_H1N1_1A.3.3.2</text><text x="560" y="1039.57">A_swine_Italy_377432_2020_H1N1_1A.3.3.2</text><text x="501.8" y="1237.22">KU322847_A_swine_Italy_105389_2014_H1N1_1A.3.3.2</text><text x="484.8" y="1425">KJ847640_A_swine_Italy_6352-17_2013_H1N1_1A.3.3.2</text><text x="449.5" y="1444.77">C Y033619_A_swine_Italy_290271_2009_H1N1_1A.3.3.2</text><text x="451.2" y="1543.6">CY057078_A_swine_Italy_85429_2009_H1N1_1A.3.3.2</text><text x="451.2" y="1553.48">CY061547_A_swine_Italy_85437_2009_H1N1_1A.3.3.2</text></g>
<text x="363.8" y="1681.96" font-family="Liberation Serif" font-size="10.65" fill="#1a1a1a" stroke="#1a1a1a" stroke-width="0.3" transform="scale(1 1.08)">1A.3</text>
<line x1="276" y1="1983.1" x2="352" y2="1983.1" stroke="#c4c4c4" stroke-width="1.6"/>
<rect x="310.8" y="1986" width="5.6" height="2.6" rx="1.2" fill="#333"/>
<g font-family="Liberation Serif" font-size="66.5" fill="#000"><text transform="translate(958.61 174.5) scale(0.9946 1)">swine-2</text><text transform="translate(957.9 351.4) scale(0.9994 1)">Sw-D Italy2</text><text transform="translate(958.1 511.8) scale(0.9992 1)">Human-Like2</text><text transform="translate(956.84 742) scale(0.9906 1)">Sw-D Italy1</text><text transform="translate(958.38 844.4) scale(1.0054 1)">Seasonal-like</text><text transform="translate(943.7 992.2) scale(1.0003 1)">Human-Like2</text><text transform="translate(958.24 1271.1) scale(0.9899 1)">Sw-L Denmark</text><text transform="translate(962.41 1519.2) scale(0.998 1)">Sw-D France</text><text transform="translate(943.73 1643.6) scale(0.9839 1)">Human-Like1</text></g>
<g font-family="Liberation Serif" font-size="64.8" fill="#000"><text x="846.5" y="341">a</text><text x="845.5" y="752.5">b</text><text x="845.6" y="866.3">c</text></g>
</svg>
</body></html>
